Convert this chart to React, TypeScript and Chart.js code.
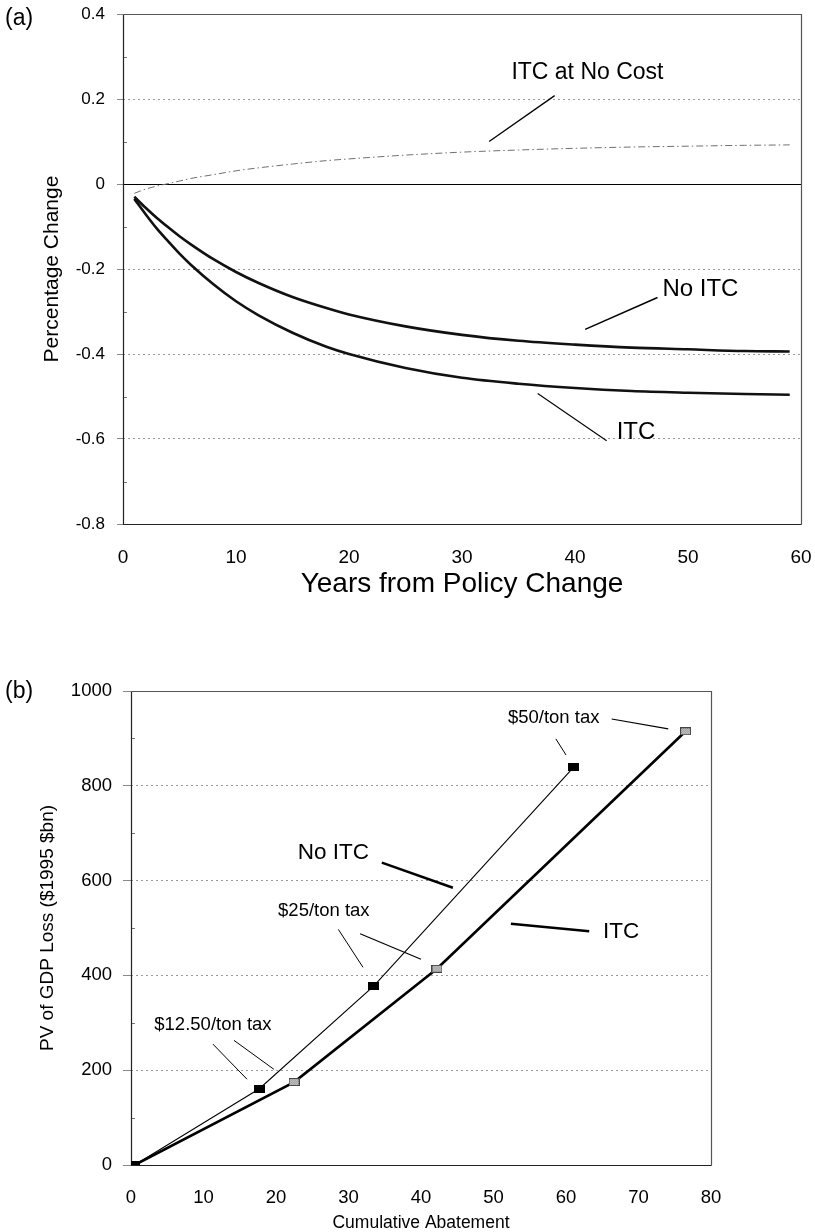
import React, { useEffect, useRef } from "react";
import { Chart, registerables } from "chart.js";

Chart.register(...registerables);

const FONT = "'Liberation Sans', Arial, Helvetica, sans-serif";

// ---------- Panel (a) data ----------
const yearsA = [1, 2, 3, 4, 5, 6, 8, 10, 12, 15, 18, 20, 25, 30, 35, 40, 45, 50, 55, 59];
const noItcA = [-0.030, -0.056, -0.080, -0.102, -0.123, -0.142, -0.177, -0.207, -0.233, -0.266, -0.292, -0.307, -0.335, -0.355, -0.369, -0.378, -0.385, -0.389, -0.393, -0.394];
const itcA = [-0.035, -0.071, -0.105, -0.135, -0.164, -0.190, -0.236, -0.276, -0.309, -0.350, -0.383, -0.400, -0.433, -0.456, -0.470, -0.480, -0.487, -0.491, -0.494, -0.496];
const itcNoCostA = [-0.022, -0.012, -0.005, 0.001, 0.007, 0.013, 0.022, 0.031, 0.038, 0.047, 0.055, 0.059, 0.068, 0.075, 0.080, 0.084, 0.087, 0.089, 0.091, 0.092];
const xTicksA = [0, 10, 20, 30, 40, 50, 60];
const yTicksA = [-0.8, -0.6, -0.4, -0.2, 0, 0.2, 0.4];
const yMinorA = [-0.7, -0.5, -0.3, -0.1, 0.1, 0.3];

// ---------- Panel (b) data ----------
const abatementNoItc = [0.5, 17.7, 33.5, 61.1];
const lossNoItc = [0, 161, 378, 840];
const abatementItc = [0.5, 22.5, 42.2, 76.5];
const lossItc = [0, 175, 414, 915];
const xTicksB = [0, 10, 20, 30, 40, 50, 60, 70, 80];
const yTicksB = [0, 200, 400, 600, 800, 1000];
const yMinorB = [100, 300, 500, 700, 900];

// ---------- Annotations (data coordinates) ----------
const labelsA = [
  { text: "ITC at No Cost", x: 41.1, y: 0.262, size: 23 },
  { text: "No ITC", x: 51.1, y: -0.248, size: 24 },
  { text: "ITC", x: 45.4, y: -0.585, size: 24 },
];
const leadersA = [
  { x1: 38.2, y1: 0.208, x2: 32.4, y2: 0.100, w: 1.3 },
  { x1: 47.3, y1: -0.267, x2: 40.9, y2: -0.342, w: 1.5 },
  { x1: 42.8, y1: -0.604, x2: 36.7, y2: -0.493, w: 1.1 },
];
const labelsB = [
  { text: "$50/ton tax", x: 58.3, y: 943, size: 18.5 },
  { text: "No ITC", x: 27.9, y: 659, size: 22.5 },
  { text: "$25/ton tax", x: 26.6, y: 537, size: 18.5 },
  { text: "ITC", x: 67.6, y: 491, size: 22.5 },
  { text: "$12.50/ton tax", x: 11.3, y: 295, size: 18.5 },
];
const leadersB = [
  { x1: 58.6, y1: 899, x2: 60.0, y2: 865, w: 1 },
  { x1: 66.3, y1: 941, x2: 74.1, y2: 920, w: 1.2 },
  { x1: 34.6, y1: 638, x2: 44.4, y2: 585, w: 2.5 },
  { x1: 28.6, y1: 497, x2: 32.0, y2: 417, w: 1 },
  { x1: 31.6, y1: 488, x2: 40.0, y2: 434, w: 1.2 },
  { x1: 52.4, y1: 509, x2: 63.2, y2: 493, w: 2.5 },
  { x1: 11.3, y1: 255, x2: 16.0, y2: 181, w: 1 },
  { x1: 14.2, y1: 263, x2: 19.7, y2: 202, w: 1 },
];

type Ann = { text: string; x: number; y: number; size: number };
type Lead = { x1: number; y1: number; x2: number; y2: number; w: number };

function overlayPlugin(opts: {
  minor: number[];
  zeroLine: boolean;
  labels: Ann[];
  leaders: Lead[];
  panel: { text: string; x: number; y: number };
}) {
  return {
    id: "overlay",
    beforeDatasetsDraw(chart: any) {
      const { ctx, chartArea: ca, scales } = chart;
      ctx.save();
      ctx.strokeStyle = "#777";
      ctx.lineWidth = 1;
      for (const v of opts.minor) {
        const py = Math.round(scales.y.getPixelForValue(v)) + 0.5;
        ctx.beginPath();
        ctx.moveTo(ca.left, py);
        ctx.lineTo(ca.left + 4, py);
        ctx.stroke();
      }
      if (opts.zeroLine) {
        const py = Math.round(scales.y.getPixelForValue(0)) + 0.5;
        ctx.strokeStyle = "#000";
        ctx.lineWidth = 1.2;
        ctx.beginPath();
        ctx.moveTo(ca.left, py);
        ctx.lineTo(ca.right, py);
        ctx.stroke();
      }
      // frame
      const l = Math.round(ca.left) + 0.5;
      const r = Math.round(ca.right) + 0.5;
      const t = Math.round(ca.top) + 0.5;
      const b = Math.round(ca.bottom) + 0.5;
      ctx.lineWidth = 1.2;
      ctx.strokeStyle = "#555";
      ctx.beginPath();
      ctx.moveTo(l, t);
      ctx.lineTo(r, t);
      ctx.lineTo(r, b);
      ctx.stroke();
      ctx.strokeStyle = "#222";
      ctx.beginPath();
      ctx.moveTo(l, t);
      ctx.lineTo(l, b);
      ctx.lineTo(r, b);
      ctx.stroke();
      ctx.restore();
    },
    afterDatasetsDraw(chart: any) {
      const { ctx, scales } = chart;
      const sx = scales.x;
      const sy = scales.y;
      ctx.save();
      ctx.strokeStyle = "#000";
      ctx.lineCap = "butt";
      for (const ld of opts.leaders) {
        ctx.lineWidth = ld.w;
        ctx.beginPath();
        ctx.moveTo(sx.getPixelForValue(ld.x1), sy.getPixelForValue(ld.y1));
        ctx.lineTo(sx.getPixelForValue(ld.x2), sy.getPixelForValue(ld.y2));
        ctx.stroke();
      }
      ctx.fillStyle = "#000";
      ctx.textAlign = "center";
      ctx.textBaseline = "middle";
      for (const a of opts.labels) {
        ctx.font = `${a.size}px ${FONT}`;
        ctx.fillText(a.text, sx.getPixelForValue(a.x), sy.getPixelForValue(a.y));
      }
      ctx.textAlign = "left";
      ctx.font = `23px ${FONT}`;
      ctx.fillText(opts.panel.text, opts.panel.x, opts.panel.y);
      ctx.restore();
    },
  };
}

function makeMarker(fill: string, hatch: boolean) {
  const c = document.createElement("canvas");
  c.width = 11;
  c.height = 8;
  const g = c.getContext("2d")!;
  g.fillStyle = fill;
  g.fillRect(0, 0, 11, 8);
  if (hatch) {
    g.fillStyle = "#8a8a8a";
    for (let j = 1; j < 7; j++) {
      for (let i = (j % 2); i < 11; i += 2) g.fillRect(i, j, 1, 1);
    }
    g.strokeStyle = "#444";
    g.lineWidth = 1;
    g.strokeRect(0.5, 0.5, 10, 7);
  }
  return c;
}

const gridColor = (skip: number[]) => (ctx: any) => {
  const v = ctx.tick ? ctx.tick.value : null;
  if (v === null) return "rgba(0,0,0,0)";
  for (const s of skip) if (Math.abs(v - s) < 1e-9) return "rgba(0,0,0,0)";
  return "#9a9a9a";
};

const fixX = (h: number) => (s: any) => {
  s.height = h;
  s.paddingLeft = 0;
  s.paddingRight = 0;
};
const fixY = (w: number) => (s: any) => {
  s.width = w;
  s.paddingTop = 0;
  s.paddingBottom = 0;
};

export default function App() {
  const refA = useRef<HTMLCanvasElement>(null);
  const refB = useRef<HTMLCanvasElement>(null);

  useEffect(() => {
    Chart.defaults.font.family = FONT;
    Chart.defaults.color = "#000";

    const chartA = new Chart(refA.current!, {
      type: "line",
      data: {
        datasets: [
          {
            label: "No ITC",
            data: yearsA.map((x, i) => ({ x, y: noItcA[i] })),
            borderColor: "#111",
            borderWidth: 2.6,
            pointRadius: 0,
            cubicInterpolationMode: "monotone",
          },
          {
            label: "ITC",
            data: yearsA.map((x, i) => ({ x, y: itcA[i] })),
            borderColor: "#111",
            borderWidth: 2.6,
            pointRadius: 0,
            cubicInterpolationMode: "monotone",
          },
          {
            label: "ITC at No Cost",
            data: yearsA.map((x, i) => ({ x, y: itcNoCostA[i] })),
            borderColor: "#707070",
            borderWidth: 1,
            borderDash: [7, 3, 1.5, 3],
            pointRadius: 0,
            cubicInterpolationMode: "monotone",
          },
        ],
      },
      options: {
        responsive: false,
        animation: false,
        layout: { padding: { left: 0, right: 14, top: 14, bottom: 0 } },
        plugins: { legend: { display: false }, tooltip: { enabled: false } },
        scales: {
          x: {
            type: "linear",
            min: 0,
            max: 60,
            afterBuildTicks: (s: any) => {
              s.ticks = xTicksA.map((v) => ({ value: v }));
            },
            afterFit: fixX(86),
            grid: { display: false, drawTicks: false },
            border: { display: false },
            ticks: {
              font: { size: 19 },
              color: "#000",
              padding: 22,
              maxRotation: 0,
              callback: (v: any) => String(v),
            },
            title: {
              display: true,
              text: "Years from Policy Change",
              font: { size: 28 },
              color: "#000",
              padding: { top: 0, bottom: 9 },
            },
          },
          y: {
            type: "linear",
            min: -0.8,
            max: 0.4,
            afterBuildTicks: (s: any) => {
              s.ticks = yTicksA.map((v) => ({ value: v }));
            },
            afterFit: fixY(123),
            grid: {
              color: gridColor([0, 0.4, -0.8]),
              lineWidth: 1,
              drawTicks: true,
              tickLength: 6,
              tickColor: "#888",
              tickWidth: 1,
            },
            border: { display: false, dash: [2, 3] },
            ticks: {
              font: { size: 17 },
              color: "#000",
              padding: 12,
              callback: (v: any) => (Math.abs(v) < 1e-9 ? "0" : Number(v).toFixed(1)),
            },
            title: {
              display: true,
              text: "Percentage Change",
              font: { size: 21 },
              color: "#000",
              padding: { top: 40, bottom: 0 },
            },
          },
        },
      },
      plugins: [
        overlayPlugin({
          minor: yMinorA,
          zeroLine: true,
          labels: labelsA,
          leaders: leadersA,
          panel: { text: "(a)", x: 5, y: 19 },
        }),
      ],
    } as any);

    const blackMarker = makeMarker("#000", false);
    const hatchMarker = makeMarker("#d8d8d8", true);

    const chartB = new Chart(refB.current!, {
      type: "line",
      data: {
        datasets: [
          {
            label: "No ITC",
            data: abatementNoItc.map((x, i) => ({ x, y: lossNoItc[i] })),
            borderColor: "#000",
            borderWidth: 1.1,
            pointStyle: blackMarker,
            pointRadius: 5,
            tension: 0,
          },
          {
            label: "ITC",
            data: abatementItc.map((x, i) => ({ x, y: lossItc[i] })),
            borderColor: "#000",
            borderWidth: 2.6,
            pointStyle: hatchMarker,
            pointRadius: 5,
            tension: 0,
          },
        ],
      },
      options: {
        responsive: false,
        animation: false,
        layout: { padding: { left: 0, right: 104, top: 51, bottom: 0 } },
        plugins: { legend: { display: false }, tooltip: { enabled: false } },
        scales: {
          x: {
            type: "linear",
            min: 0,
            max: 80,
            afterBuildTicks: (s: any) => {
              s.ticks = xTicksB.map((v) => ({ value: v }));
            },
            afterFit: fixX(67),
            grid: { display: false, drawTicks: false },
            border: { display: false },
            ticks: {
              font: { size: 18.5 },
              color: "#000",
              padding: 22,
              maxRotation: 0,
              callback: (v: any) => String(v),
            },
            title: {
              display: true,
              text: "Cumulative Abatement",
              font: { size: 17.5, lineHeight: 1 },
              color: "#000",
              padding: { top: 0, bottom: 0.5 },
            },
          },
          y: {
            type: "linear",
            min: 0,
            max: 1000,
            afterBuildTicks: (s: any) => {
              s.ticks = yTicksB.map((v) => ({ value: v }));
            },
            afterFit: fixY(131),
            grid: {
              color: gridColor([0, 1000]),
              lineWidth: 1,
              drawTicks: true,
              tickLength: 8,
              tickColor: "#888",
              tickWidth: 1,
            },
            border: { display: false, dash: [2, 3] },
            ticks: {
              font: { size: 18.5 },
              color: "#000",
              padding: 11,
              callback: (v: any) => String(v),
            },
            title: {
              display: true,
              text: "PV of GDP Loss ($1995 $bn)",
              font: { size: 19 },
              color: "#000",
              padding: { top: 36, bottom: 0 },
            },
          },
        },
      },
      plugins: [
        overlayPlugin({
          minor: yMinorB,
          zeroLine: false,
          labels: labelsB,
          leaders: leadersB,
          panel: { text: "(b)", x: 5, y: 52 },
        }),
      ],
    } as any);

    return () => {
      chartA.destroy();
      chartB.destroy();
    };
  }, []);

  return (
    <div style={{ position: "absolute", left: 0, top: 0, width: 815, height: 1232, background: "#fff" }}>
      <canvas
        ref={refA}
        width={815}
        height={610}
        style={{ position: "absolute", left: 0, top: 0, width: 815, height: 610 }}
      />
      <canvas
        ref={refB}
        width={815}
        height={592}
        style={{ position: "absolute", left: 0, top: 640, width: 815, height: 592 }}
      />
    </div>
  );
}
